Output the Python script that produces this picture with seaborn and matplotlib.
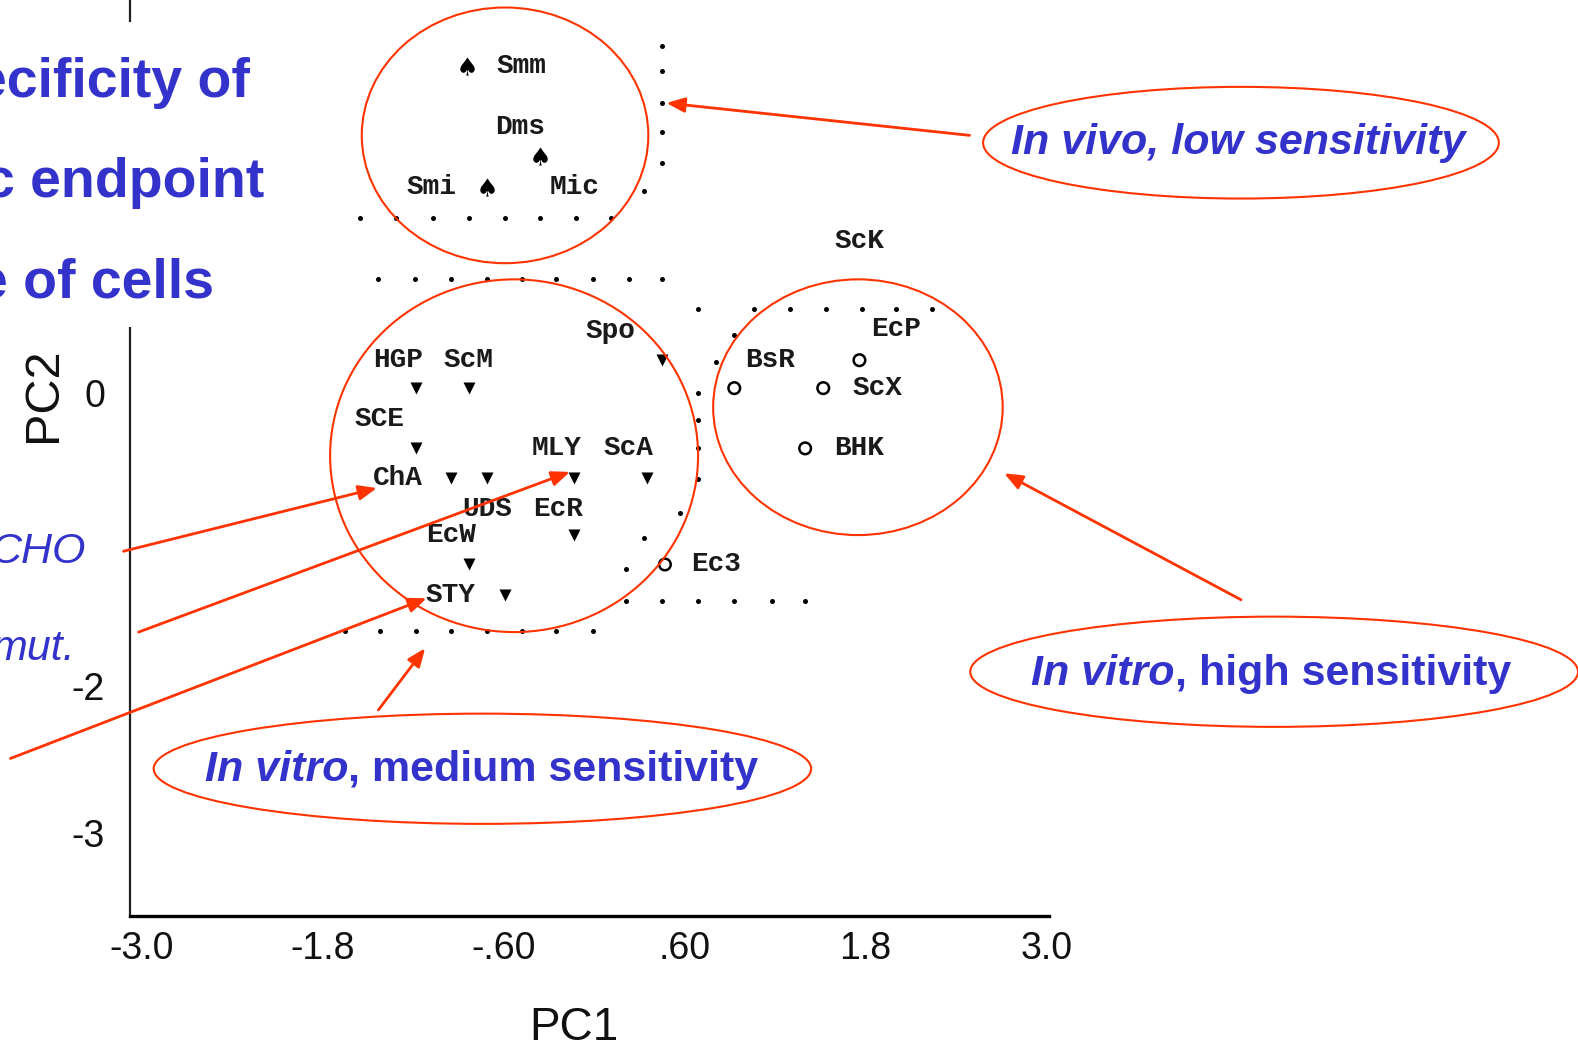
import matplotlib
matplotlib.use("Agg")
import matplotlib.pyplot as plt
from matplotlib.patches import Ellipse, Rectangle
import seaborn as sns

# PCA scores (PC1, PC2)
spade_x = [-0.84, -0.36, -0.71]
spade_y = [2.22, 1.61, 1.40]

tri_x = [0.45, -1.18, -0.83, -1.18, -0.95, -0.71, -0.13, 0.35, -0.13, -0.83, -0.59]
tri_y = [0.22, 0.03, 0.03, -0.38, -0.58, -0.58, -0.58, -0.58, -0.97, -1.17, -1.38]

circle_x = [0.93, 1.76, 1.52, 1.40, 0.47]
circle_y = [0.03, 0.22, 0.03, -0.38, -1.17]

# the dotted border lines of the line-printer plot
dot_x = [0.45, 0.45, 0.45, 0.45, 0.45, 0.33,
         -1.55, -1.31, -1.07, -0.83, -0.59, -0.36, -0.12, 0.11,
         -1.43, -1.19, -0.95, -0.71, -0.48, -0.25, -0.01, 0.23, 0.45,
         0.69, 1.06, 1.30, 1.54, 1.78, 2.00, 2.24,
         0.93, 0.81, 0.69, 0.69, 0.69, 0.69, 0.57, 0.33, 0.21,
         0.21, 0.45, 0.69, 0.93, 1.18, 1.40,
         -1.65, -1.42, -1.18, -0.95, -0.71, -0.48, -0.25, -0.01]
dot_y = [2.36, 2.19, 1.97, 1.77, 1.56, 1.37,
         1.19, 1.19, 1.19, 1.19, 1.19, 1.19, 1.19, 1.19,
         0.77, 0.77, 0.77, 0.77, 0.77, 0.77, 0.77, 0.77, 0.77,
         0.57, 0.57, 0.57, 0.57, 0.57, 0.57, 0.57,
         0.39, 0.21, 0.00, -0.19, -0.38, -0.59, -0.82, -0.99, -1.20,
         -1.42, -1.42, -1.42, -1.42, -1.42, -1.42,
         -1.62, -1.62, -1.62, -1.62, -1.62, -1.62, -1.62, -1.62]

labels = ["Smm", "Dms", "Smi", "Mic", "ScK", "Spo", "EcP", "HGP", "ScM", "BsR", "ScX",
          "SCE", "MLY", "ScA", "BHK", "ChA", "UDS", "EcR", "EcW", "Ec3", "STY"]
label_x = [-0.48, -0.49, -1.08, -0.13, 1.76, 0.11, 2.00, -1.30, -0.83, 1.17, 1.88,
           -1.42, -0.25, 0.23, 1.76, -1.30, -0.71, -0.24, -0.95, 0.81, -0.95]
label_y = [2.22, 1.81, 1.40, 1.40, 1.03, 0.42, 0.43, 0.22, 0.22, 0.22, 0.03,
           -0.18, -0.38, -0.38, -0.38, -0.58, -0.79, -0.79, -0.97, -1.17, -1.38]

xtick_vals = [-3.0, -1.8, -0.6, 0.6, 1.8, 3.0]
xtick_text = ["-3.0", "-1.8", "-.60", ".60", "1.8", "3.0"]
ytick_vals = [0, -2, -3]
ytick_text = ["0", "-2", "-3"]

BLUE = "#3333CC"
RED = "#FF3300"
SANS = ["Liberation Sans", "DejaVu Sans"]
MONO = ["Liberation Mono", "DejaVu Sans Mono"]

sns.set_style("white")
plt.rcParams["font.family"] = SANS

fig = plt.figure(figsize=(15.78, 10.5), dpi=100)
ax = fig.add_axes([130 / 1578, 134 / 1050, 919 / 1578, 916 / 1050])

sns.scatterplot(x=dot_x, y=dot_y, marker="o", s=13, color="black", linewidth=0, ax=ax)
sns.scatterplot(x=spade_x, y=spade_y, marker="$\u2660$", s=170, color="black", linewidth=0, ax=ax)
sns.scatterplot(x=tri_x, y=tri_y, marker="v", s=75, color="black", linewidth=0, ax=ax)
sns.scatterplot(x=circle_x, y=circle_y, marker="o", s=70, facecolor="none",
                edgecolor="black", linewidth=1.8, ax=ax)

for name, lx, ly in zip(labels, label_x, label_y):
    ax.text(lx, ly, name, family=MONO, fontweight="bold", fontsize=20,
            color="#1a1a1a", ha="center", va="center")

ax.set_xlim(-3.077, 3.017)
ax.set_ylim(-3.562, 2.671)
ax.set_xticks(xtick_vals)
ax.set_xticklabels(xtick_text)
ax.set_yticks(ytick_vals)
ax.set_yticklabels(ytick_text)
ax.tick_params(axis="both", length=0, labelsize=27, labelcolor="#111111")
ax.tick_params(axis="x", pad=11)
ax.tick_params(axis="y", pad=18)

sns.despine(ax=ax)
ax.spines["left"].set_linewidth(1.6)
ax.spines["left"].set_color("#222222")
ax.spines["bottom"].set_linewidth(2.4)
ax.spines["bottom"].set_color("black")

ax.set_xlabel("PC1", fontsize=33, color="#111111")
ax.set_ylabel("PC2", fontsize=35, color="#111111")
ax.xaxis.set_label_coords(0.483, -0.098)
ax.yaxis.set_label_coords(-0.07, 0.569)

# group circles and caption ellipses
for cx, cy, w, h in [(-0.59, 1.75, 1.90, 1.74), (-0.53, -0.43, 2.44, 2.40),
                     (1.75, -0.10, 1.92, 1.74), (4.29, 1.70, 3.42, 0.76),
                     (4.51, -1.90, 4.03, 0.75), (-0.74, -2.56, 4.36, 0.75)]:
    ax.add_patch(Ellipse((cx, cy), w, h, fill=False, edgecolor=RED, linewidth=1.5,
                         clip_on=False, zorder=5))

# callout arrows
arrow_style = dict(arrowstyle="-|>,head_length=1.1,head_width=0.45", color=RED,
                   lw=2.0, shrinkA=0, shrinkB=0)
for (tx, ty), (hx, hy) in [((-3.12, -1.08), (-1.44, -0.65)),
                           ((-3.02, -1.63), (-0.16, -0.54)),
                           ((-3.87, -2.49), (-1.11, -1.40)),
                           ((-1.43, -2.16), (-1.12, -1.74)),
                           ((2.49, 1.75), (0.48, 1.97)),
                           ((4.29, -1.41), (2.72, -0.55))]:
    ax.annotate("", xy=(hx, hy), xytext=(tx, ty), arrowprops=arrow_style,
                annotation_clip=False, zorder=6)

cap = dict(color=BLUE, fontsize=31, fontweight="bold", zorder=6)
ax.text(4.27, 1.62, "In vivo, low sensitivity", fontstyle="italic", ha="center",
        va="baseline", clip_on=False, **cap)
t1 = ax.text(2.90, -1.99, "In vitro", fontstyle="italic", ha="left", va="baseline",
             clip_on=False, **cap)
ax.annotate(", high sensitivity", xy=(1, 0), xycoords=t1, ha="left", va="bottom", **cap)
t2 = ax.text(-2.58, -2.64, "In vitro", fontstyle="italic", ha="left", va="baseline",
             clip_on=False, **cap)
ax.annotate(", medium sensitivity", xy=(1, 0), xycoords=t2, ha="left", va="bottom", **cap)

side = dict(color=BLUE, fontsize=31, fontstyle="italic", ha="right",
            va="baseline", clip_on=False, zorder=6)
ax.text(-3.37, -1.16, "CHO", **side)
ax.text(-3.44, -1.82, "mut.", **side)

# slide title box laid over the top-left of the chart
ax.add_patch(Rectangle((-4.0, 0.445), 1.86, 2.076, facecolor="white", edgecolor="none",
                       clip_on=False, zorder=7))
title = dict(color=BLUE, fontsize=40, fontweight="bold", ha="right",
             va="baseline", clip_on=False, zorder=8)
ax.text(-2.28, 2.01, "ecificity of", **title)
ax.text(-2.19, 1.33, "c endpoint", **title)
ax.text(-2.52, 0.65, "e of cells", **title)

fig.savefig("out.png", dpi=100, facecolor="white")
